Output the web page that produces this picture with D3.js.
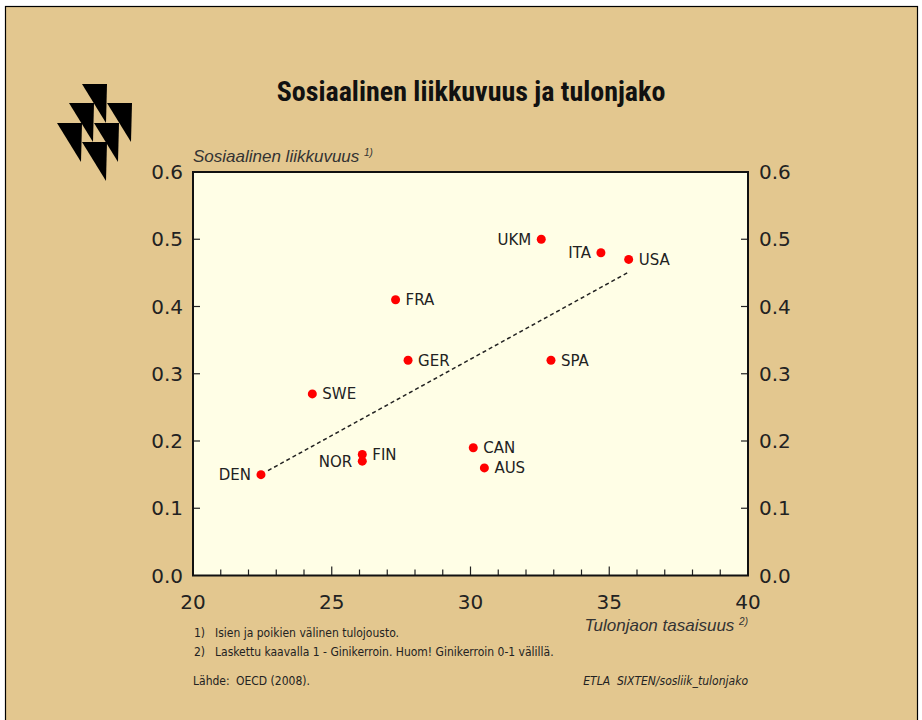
<!DOCTYPE html>
<html><head><meta charset="utf-8">
<script src="https://cdn.jsdelivr.net/npm/d3@7"></script>
<style>
body{margin:0;background:#fff;}
text{font-family:"DejaVu Sans",Verdana,sans-serif;}
</style></head>
<body>
<svg id="c" width="922" height="720"></svg>
<script>
const countries = ["DEN","SWE","FRA","GER","NOR","FIN","CAN","AUS","SPA","UKM","ITA","USA"];
const equality  = [22.45, 24.3, 27.3, 27.75, 26.1, 26.1, 30.1, 30.5, 32.9, 32.55, 34.7, 35.7];
const mobility  = [0.15, 0.27, 0.41, 0.32, 0.17, 0.18, 0.19, 0.16, 0.32, 0.50, 0.48, 0.47];
const labelSide = ["left","right","right","right","left","right","right","right","right","left","left","right"];
const trendX = [22.45, 35.65];
const trendY = [0.15, 0.45];
const xTicks = [20, 25, 30, 35, 40];
const yTicks = [0, 0.1, 0.2, 0.3, 0.4, 0.5, 0.6];

const svg = d3.select("#c");
svg.append("rect").attr("x",0).attr("y",0).attr("width",922).attr("height",720).attr("fill","#fff");
svg.append("rect").attr("x",5.5).attr("y",6.5).attr("width",912).attr("height",720).attr("fill","#E3C78F").attr("stroke","#000").attr("stroke-width",1.2);

const L=193, R=748, T=172, B=575.5;
const x = d3.scaleLinear().domain([20,40]).range([L,R]);
const y = d3.scaleLinear().domain([0,0.6]).range([B,T]);

svg.append("rect").attr("x",L).attr("y",T).attr("width",R-L).attr("height",B-T).attr("fill","#FFFEE6");

const g = svg.append("g");
g.selectAll("line.xm").data(d3.range(21,40)).enter().append("line")
 .attr("x1",d=>x(d)).attr("x2",d=>x(d)).attr("y1",B).attr("y2",d=>d%5===0?B-9:B-6)
 .attr("stroke","#222").attr("stroke-width",1.2);
g.selectAll("line.yl").data(yTicks.slice(1,-1)).enter().append("line")
 .attr("x1",L).attr("x2",L+7).attr("y1",d=>y(d)).attr("y2",d=>y(d)).attr("stroke","#222").attr("stroke-width",1.2);
g.selectAll("line.yr").data(yTicks.slice(1,-1)).enter().append("line")
 .attr("x1",R).attr("x2",R-7).attr("y1",d=>y(d)).attr("y2",d=>y(d)).attr("stroke","#222").attr("stroke-width",1.2);

svg.append("rect").attr("x",L).attr("y",T).attr("width",R-L).attr("height",B-T).attr("fill","none").attr("stroke","#111").attr("stroke-width",2);

svg.selectAll("text.xt").data(xTicks).enter().append("text")
 .attr("x",d=>x(d)).attr("y",609).attr("text-anchor","middle").attr("font-size",20).attr("fill","#222").text(d=>d);
svg.selectAll("text.yl").data(yTicks).enter().append("text")
 .attr("x",183).attr("y",d=>y(d)+7).attr("text-anchor","end").attr("font-size",20).attr("fill","#222").text(d=>d.toFixed(1));
svg.selectAll("text.yr").data(yTicks).enter().append("text")
 .attr("x",759).attr("y",d=>y(d)+7).attr("text-anchor","start").attr("font-size",20).attr("fill","#222").text(d=>d.toFixed(1));

svg.append("line").attr("x1",x(trendX[0])+7).attr("y1",y(trendY[0])-4).attr("x2",x(trendX[1])).attr("y2",y(trendY[1]))
 .attr("stroke","#222").attr("stroke-width",1.5).attr("stroke-dasharray","4,3");

const pts = countries.map((c,i)=>({c, x:equality[i], y:mobility[i], s:labelSide[i]}));
svg.selectAll("circle.p").data(pts).enter().append("circle")
 .attr("cx",d=>x(d.x)).attr("cy",d=>y(d.y)).attr("r",4.5).attr("fill","#FF0000");
svg.selectAll("text.p").data(pts).enter().append("text")
 .attr("x",d=>d.s==="left"?x(d.x)-10:x(d.x)+10).attr("y",d=>y(d.y)+5.5)
 .attr("text-anchor",d=>d.s==="left"?"end":"start")
 .attr("font-size",15).attr("fill","#222").text(d=>d.c);

svg.append("text").attr("x",471).attr("y",101).attr("text-anchor","middle")
 .style("font-family","'Liberation Sans Narrow','Roboto Condensed','DejaVu Sans Condensed',sans-serif")
 .style("font-stretch","condensed")
 .attr("font-weight","bold").attr("font-size",28).attr("fill","#111").text("Sosiaalinen liikkuvuus ja tulonjako");

const yt = svg.append("text").attr("x",193).attr("y",162).attr("font-size",17).attr("font-style","italic").attr("fill","#333")
 .style("font-family","'Liberation Sans',Arial,sans-serif");
yt.append("tspan").text("Sosiaalinen liikkuvuus ");
yt.append("tspan").attr("font-size",10).attr("dy",-6).text("1)");
const xt = svg.append("text").attr("x",748).attr("y",631).attr("text-anchor","end").attr("font-size",17).attr("font-style","italic").attr("fill","#333")
 .style("font-family","'Liberation Sans',Arial,sans-serif");
xt.append("tspan").text("Tulonjaon tasaisuus ");
xt.append("tspan").attr("font-size",10).attr("dy",-6).text("2)");

const fn = "'Liberation Sans Narrow','DejaVu Sans Condensed',sans-serif";
function t(xp,yp,s,opts={}){ const e=svg.append("text").attr("x",xp).attr("y",yp).attr("font-size",opts.size||12).attr("fill","#222")
  .style("font-family",fn).text(s); if(opts.anchor)e.attr("text-anchor",opts.anchor); if(opts.italic)e.attr("font-style","italic"); return e;}
t(194,637,"1)"); t(215,637,"Isien ja poikien välinen tulojousto.");
t(194,656,"2)"); t(215,656,"Laskettu kaavalla 1 - Ginikerroin. Huom! Ginikerroin 0-1 välillä.");
t(193,685,"Lähde:"); t(236,685,"OECD (2008).");
t(748,685,"ETLA\u00A0\u00A0SIXTEN/sosliik_tulonjako",{anchor:"end",italic:true});

const logoTri = [[82,84],[69,103],[107,103],[57,123],[94,123],[82,142]];
svg.selectAll("path.logo").data(logoTri).enter().append("path")
 .attr("d",d=>`M${d[0]},${d[1]} L${d[0]+25},${d[1]} L${d[0]+24},${d[1]+39} Z`).attr("fill","#000");
</script>
</body></html>
